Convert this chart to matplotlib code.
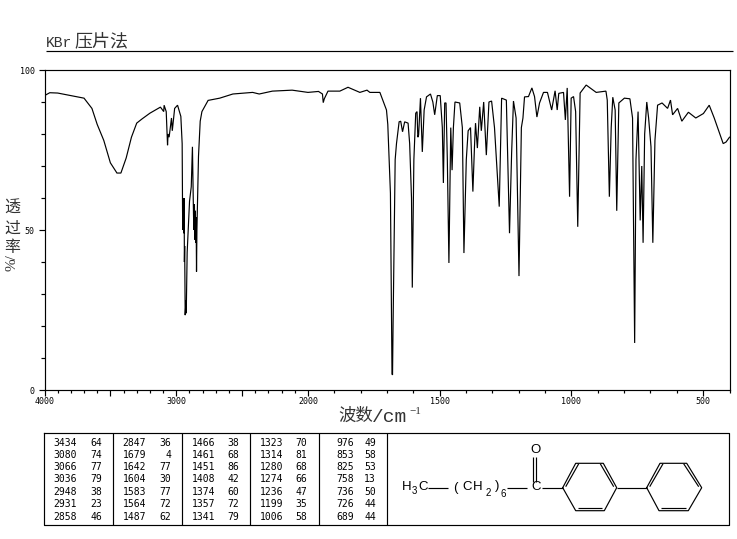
import numpy as np
import matplotlib
matplotlib.use("Agg")
import matplotlib.pyplot as plt
from matplotlib.ticker import FixedLocator, NullFormatter, FixedFormatter

# 谱线数据 (波数, 透过率)
wavenumber = [
    4000, 3960, 3900, 3800, 3700, 3640, 3600, 3550, 3500, 3450, 3420, 3380, 3340, 3300, 3260,
    3200, 3120, 3095, 3092, 3080, 3076, 3066, 3062, 3054, 3048, 3036, 3030, 3012, 2990, 2965,
    2955, 2952, 2950, 2948, 2946, 2944, 2942, 2940, 2938, 2936, 2932, 2926, 2924, 2917, 2899,
    2886, 2877, 2869, 2866, 2862, 2859, 2855, 2852, 2849, 2846, 2843, 2831, 2818, 2805, 2758,
    2670, 2570, 2420, 2370, 2270, 2120, 2000,
    1960, 1945, 1942, 1938, 1924, 1879, 1848, 1803, 1776, 1765, 1727, 1702, 1697, 1687,
    1681, 1679, 1677, 1669, 1664, 1654, 1648, 1641, 1633, 1620, 1614, 1607, 1604, 1598, 1591,
    1586, 1583, 1580, 1573, 1566, 1559, 1550, 1535, 1526, 1519, 1509, 1498, 1490, 1486, 1481,
    1476, 1471, 1465, 1458, 1453, 1448, 1442, 1424, 1414, 1408, 1399, 1392, 1383, 1379, 1374,
    1368, 1364, 1357, 1348, 1342, 1333, 1323, 1313, 1303, 1292, 1274, 1265, 1247, 1235, 1227,
    1220, 1210, 1199, 1190, 1184, 1178, 1163, 1150, 1140, 1131, 1121, 1106, 1091, 1075, 1062,
    1054, 1048, 1030, 1023, 1016, 1007, 1001, 992, 984, 976, 967, 944, 906, 869, 864,
    856, 849, 843, 834, 828, 820, 799, 778, 768, 760, 755, 747, 739, 733, 728,
    722, 714, 707, 698, 691, 683, 673, 656, 635, 624, 616, 597, 581, 556, 528,
    499, 477, 458, 424, 413, 400,
]
transmittance = [
    92.0, 92.9, 92.8, 92.0, 91.2, 88.0, 83.0, 78.0, 71.0, 67.8, 67.8, 72.5, 79.0, 83.4, 84.7,
    86.5, 88.4, 87.0, 89.0, 87.5, 87.0, 76.5, 80.0, 79.0, 81.0, 85.0, 81.0, 88.0, 89.0, 85.5,
    77.0, 56.0, 50.0, 60.0, 50.0, 55.0, 49.0, 60.0, 40.0, 45.0, 23.4, 28.0, 24.0, 43.0, 59.0,
    63.5, 76.0, 55.0, 50.0, 58.0, 47.0, 56.0, 46.0, 54.0, 37.0, 50.0, 73.0, 84.0, 87.0, 90.5,
    91.2, 92.5, 93.0, 92.5, 93.4, 93.7, 93.0,
    93.3, 92.5, 89.8, 91.0, 93.4, 93.4, 94.6, 93.0, 93.7, 93.0, 93.0, 87.5, 83.0, 61.5,
    5.0, 4.7, 20.0, 72.0, 77.0, 83.8, 84.0, 80.7, 83.8, 83.4, 77.0, 60.0, 32.0, 72.0, 86.5,
    87.0, 79.0, 79.7, 91.2, 74.4, 87.5, 91.6, 92.5, 90.0, 86.0, 92.0, 92.0, 82.0, 64.7, 89.7,
    89.7, 72.0, 39.7, 82.0, 68.7, 82.0, 90.0, 89.7, 82.0, 42.8, 72.0, 81.0, 82.0, 73.0, 62.0,
    76.0, 83.4, 75.6, 88.5, 81.0, 90.0, 73.4, 90.0, 90.3, 82.0, 57.3, 91.2, 90.6, 49.0, 74.0,
    90.3, 85.0, 35.6, 82.0, 85.0, 91.6, 91.7, 94.4, 91.7, 85.3, 89.7, 93.0, 93.0, 87.5, 93.5,
    87.5, 92.7, 93.0, 84.4, 94.4, 60.4, 91.2, 91.7, 87.0, 51.0, 92.8, 95.3, 93.0, 93.4, 90.6,
    60.4, 82.0, 91.5, 87.5, 56.0, 89.7, 91.2, 91.0, 85.0, 14.7, 72.0, 87.0, 53.0, 70.0, 46.0,
    80.0, 90.0, 85.0, 76.0, 46.0, 78.0, 89.0, 89.7, 88.0, 90.6, 86.0, 88.0, 84.0, 86.8, 85.0,
    86.4, 89.0, 85.0, 77.0, 77.5, 79.0,
]

# 峰位表
peak_wave = [
    [3434, 3080, 3066, 3036, 2948, 2931, 2858],
    [2847, 1679, 1642, 1604, 1583, 1564, 1487],
    [1466, 1461, 1451, 1408, 1374, 1357, 1341],
    [1323, 1314, 1280, 1274, 1236, 1199, 1006],
    [976, 853, 825, 758, 736, 726, 689],
]
peak_trans = [
    [64, 74, 77, 79, 38, 23, 46],
    [36, 4, 77, 30, 77, 72, 62],
    [38, 68, 86, 42, 60, 72, 79],
    [70, 81, 68, 66, 47, 35, 58],
    [49, 58, 53, 13, 50, 44, 44],
]

x_labels = ["4000", "3000", "2000", "1500", "1000", "500"]
x_label_pos = [4000, 3000, 2000, 1500, 1000, 500]
y_labels = ["0", "50", "100"]
y_label_pos = [0, 50, 100]

W, H = 737, 539
CJK = ["Liberation Serif", "Noto Sans CJK SC"]
SLAB = ["Liberation Mono", "Noto Sans CJK SC"]
MONO = "DejaVu Sans Mono"
LW = 0.85
GRAY = "#333333"

fig = plt.figure(figsize=(W / 100, H / 100), dpi=100)


# 2000 以下横轴比例放大一倍
def forward(w):
    return np.interp(w, [0, 2000, 4000], [0, 4000, 6000])


def inverse(p):
    return np.interp(p, [0, 4000, 6000], [0, 2000, 4000])


ax = fig.add_axes([44.5 / W, 1 - 390 / H, (729.5 - 44.5) / W, 320 / H])
ax.set_xscale("function", functions=(forward, inverse))
ax.plot(wavenumber, transmittance, color="black", lw=LW, solid_joinstyle="miter")
ax.set_xlim(4000, 400)
ax.set_ylim(0, 100)

ax.xaxis.set_major_locator(FixedLocator(x_label_pos + [3500, 2500]))
ax.xaxis.set_major_formatter(FixedFormatter(x_labels + ["", ""]))
ax.xaxis.set_minor_locator(FixedLocator(np.arange(400, 4001, 100)))
ax.xaxis.set_minor_formatter(NullFormatter())
ax.yaxis.set_major_locator(FixedLocator(y_label_pos))
ax.yaxis.set_major_formatter(FixedFormatter(y_labels))
ax.yaxis.set_minor_locator(FixedLocator(np.arange(0, 101, 10)))
ax.yaxis.set_minor_formatter(NullFormatter())
ax.tick_params(axis="x", which="major", length=4, width=LW, labelsize=6, pad=1)
ax.tick_params(axis="y", which="major", length=4, width=LW, labelsize=6, pad=3)
ax.tick_params(axis="x", which="minor", length=2, width=LW)
ax.tick_params(axis="y", which="minor", length=3, width=LW)
for lab in ax.get_xticklabels() + ax.get_yticklabels():
    lab.set_family(MONO)
for s in ax.spines.values():
    s.set_linewidth(LW)

# 其余内容用像素坐标画
page = fig.add_axes([0, 0, 1, 1], facecolor="none")
page.set_xlim(0, W)
page.set_ylim(H, 0)
page.axis("off")


def seg(x0, y0, x1, y1, lw=LW):
    page.plot([x0, x1], [y0, y1], color="black", lw=lw, solid_capstyle="butt")


# 标题
page.text(46, 43, "KBr", family=SLAB, fontsize=10.5, color=GRAY, ha="left", va="center")
page.text(74, 42, "压片法", family=CJK, fontsize=13, color=GRAY, ha="left", va="center")
seg(46, 50.5, 733, 50.5)

# 坐标轴标题
page.text(338, 417, "波数", family=CJK, fontsize=12.5, color=GRAY, ha="left", va="center")
page.text(372, 417, "/cm", family=SLAB, fontsize=14, color=GRAY, ha="left", va="center")
page.text(409, 412, "−1", family=CJK, fontsize=8, color=GRAY, ha="left", va="center")
for ch, yy in zip("透过率", [209, 229, 248]):
    page.text(12, yy, ch, family=CJK, fontsize=11.5, color=GRAY, ha="center", va="center")
page.text(12, 263, "%/", family=CJK, fontsize=11, color=GRAY, ha="center", va="center", rotation=90)

# 峰位表
page.plot([44.5, 729.5, 729.5, 44.5, 44.5], [433, 433, 525, 525, 433], color="black", lw=LW)
for xx in [113, 182, 250, 319, 387]:
    seg(xx, 433, xx, 525)
row_y = [443, 455, 467, 479, 492, 504, 517]
wave_right = [77, 146, 215, 283, 354]
trans_right = [102, 171, 239, 307, 376]
for c in range(5):
    for r in range(7):
        page.text(wave_right[c], row_y[r], str(peak_wave[c][r]), family=MONO, fontsize=7, ha="right", va="center")
        page.text(trans_right[c], row_y[r], str(peak_trans[c][r]), family=MONO, fontsize=7, ha="right", va="center")


# 结构式
def label(x, y, s, size=9.5):
    page.text(x, y, s, family="Liberation Sans", fontsize=size, ha="center", va="center")


label(407, 487.5, "H")
label(414, 491.5, "3", 7)
label(423, 487.5, "C")
seg(428, 487.7, 448, 487.7)
label(455, 487.5, "(")
label(467, 487.5, "C")
label(478, 487.5, "H")
label(488, 492.5, "2", 7)
label(497, 486, ")")
label(503, 494, "6", 7)
seg(507, 487.7, 527, 487.7)
label(536, 487.5, "C")
label(536, 450, "O")
seg(533, 457, 533, 482)
seg(536, 457, 536, 482)
seg(542, 487.7, 562.7, 487.7)
seg(616.7, 487.7, 646.7, 487.7)

ring1 = [(562.7, 487.7), (575.7, 463.3), (603.3, 463.3), (616.7, 487.7), (604.3, 510.7), (575.7, 510.7)]
ring2 = [(646.7, 487.7), (660, 463.3), (686.7, 463.3), (701.7, 487.7), (688.3, 510.7), (659, 510.7)]
for ring in (ring1, ring2):
    px, py = zip(*(ring + ring[:1]))
    page.plot(px, py, color="black", lw=LW)
    (x0, y0), (x1, y1), (x2, y2), (x3, y3), (x4, y4), (x5, y5) = ring
    seg(x0 + 3, y0 - 1, x1 + 3, y1 + 0.5)
    seg(x2 - 3, y2 + 0.5, x3 - 3, y3 - 1)
    seg(x4 - 2, y4 - 2.5, x5 + 2, y5 - 2.5)

fig.savefig("out.png", dpi=100)
